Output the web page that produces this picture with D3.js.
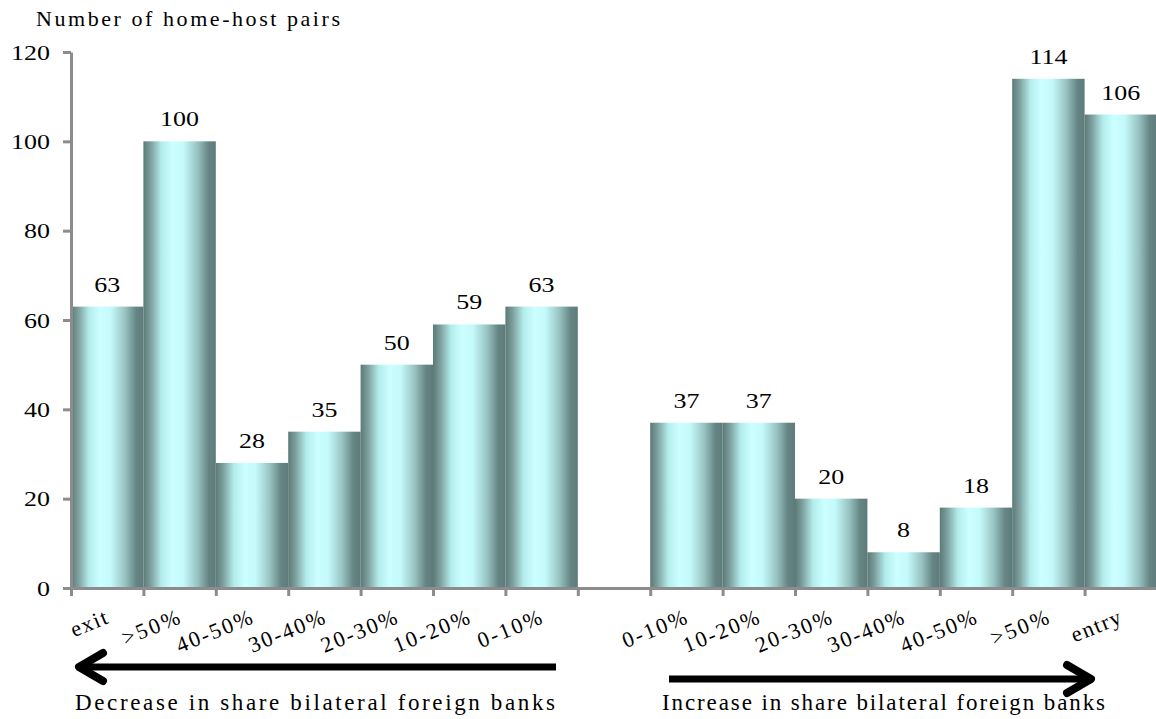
<!DOCTYPE html>
<html>
<head>
<meta charset="utf-8">
<script src="https://cdn.jsdelivr.net/npm/d3@7"></script>
<style>
  html, body { margin: 0; padding: 0; background: #ffffff; }
  svg { display: block; }
  text { font-family: "Liberation Serif", "Times New Roman", serif; fill: #000; }
</style>
</head>
<body>
<svg id="chart" width="1156" height="719"></svg>
<script>
// ---- Data ----
const leftLabels  = ["exit", ">50%", "40-50%", "30-40%", "20-30%", "10-20%", "0-10%"];
const leftValues  = [63, 100, 28, 35, 50, 59, 63];
const rightLabels = ["0-10%", "10-20%", "20-30%", "30-40%", "40-50%", ">50%", "entry"];
const rightValues = [37, 37, 20, 8, 18, 114, 106];
const yTicks = [0, 20, 40, 60, 80, 100, 120];
const yTitle = "Number of home-host pairs";
const leftCaption  = "Decrease in share bilateral foreign banks";
const rightCaption = "Increase in share bilateral foreign banks";

(function () {
// combined category list (one empty slot between the two groups)
const cats = [];
leftLabels.forEach((l, i) => cats.push({ label: l, value: leftValues[i] }));
cats.push({ label: "", value: null });
rightLabels.forEach((l, i) => cats.push({ label: l, value: rightValues[i] }));

const svg = d3.select("#chart");
const pl = 71, pr = 1157, pt = 52, pb = 588;

const x = d3.scaleBand().domain(d3.range(cats.length)).range([pl, pr]).padding(0);
const xEdge = d3.scaleLinear().domain([0, cats.length]).range([pl, pr]);
const y = d3.scaleLinear().domain([0, 120]).range([pb, pt]);

// helper: widen text like the original rendering
function stretch(sel, f, mode) {
  sel.each(function () {
    const n = this.getComputedTextLength();
    d3.select(this).attr("textLength", n * f).attr("lengthAdjust", mode || "spacing");
  });
}

// gradient
const defs = svg.append("defs");
const grad = defs.append("linearGradient").attr("id", "barGrad")
  .attr("x1", "0%").attr("x2", "100%").attr("y1", "0%").attr("y2", "0%");
[[0, "#5b7977"], [0.1, "#7c9f9d"], [0.25, "#b3ecec"], [0.4, "#ccffff"],
 [0.55, "#c5fafa"], [0.75, "#97c2c1"], [0.9, "#658584"], [1, "#5d7b7a"]]
  .forEach(([o, c]) => grad.append("stop").attr("offset", o).attr("stop-color", c));

// bars
const data = cats.map((d, i) => ({ ...d, i })).filter(d => d.value !== null);
svg.append("g").selectAll("rect").data(data).join("rect")
  .attr("x", d => x(d.i))
  .attr("width", x.bandwidth())
  .attr("y", d => y(d.value))
  .attr("height", d => y(0) - y(d.value))
  .attr("fill", "url(#barGrad)");

// value labels
svg.append("g").selectAll("text").data(data).join("text")
  .attr("x", d => x(d.i) + x.bandwidth() / 2)
  .attr("y", d => y(d.value) - 15)
  .attr("text-anchor", "middle")
  .style("font-size", "22px")
  .text(d => d.value)
  .call(stretch, 1.18, "spacingAndGlyphs");

// y axis
const yAxis = svg.append("g").attr("transform", `translate(${pl},0)`)
  .call(d3.axisLeft(y).tickValues(yTicks).tickSize(8).tickSizeOuter(0).tickPadding(13));
yAxis.selectAll("path, line").attr("stroke", "#8c8c8c").attr("stroke-width", 3);
yAxis.selectAll("text").style("font-size", "22px").attr("fill", "#000")
  .style("font-family", '"Liberation Serif", serif').call(stretch, 1.18, "spacingAndGlyphs");

// x axis (ticks at category boundaries)
const xAxis = svg.append("g").attr("transform", `translate(0,${pb})`)
  .call(d3.axisBottom(xEdge).tickValues(d3.range(0, cats.length)).tickSize(8).tickSizeOuter(0).tickFormat(""));
xAxis.selectAll("path, line").attr("stroke", "#8c8c8c").attr("stroke-width", 3);

// category labels (rotated)
svg.append("g").selectAll("text").data(cats.map((d, i) => ({ ...d, i })).filter(d => d.label))
  .join("text")
  .attr("transform", d => `translate(${x(d.i) + x.bandwidth() / 2 + 2},623) rotate(-22)`)
  .attr("text-anchor", "end")
  .style("font-size", "22px")
  .text(d => d.label)
  .call(stretch, 1.15);

// y title
svg.append("text").attr("x", 36).attr("y", 26)
  .style("font-size", "22px").text(yTitle)
  .attr("textLength", 304).attr("lengthAdjust", "spacing");

// captions
svg.append("text").attr("x", 75).attr("y", 710)
  .style("font-size", "23px").text(leftCaption)
  .attr("textLength", 480).attr("lengthAdjust", "spacing");
svg.append("text").attr("x", 662).attr("y", 710)
  .style("font-size", "23px").text(rightCaption)
  .attr("textLength", 443).attr("lengthAdjust", "spacing");

// arrows
const arr = svg.append("g").attr("stroke", "#000").attr("fill", "none");
arr.append("line").attr("x1", 556).attr("x2", 82).attr("y1", 667).attr("y2", 667).attr("stroke-width", 7);
arr.append("polyline").attr("points", "103,653 79,667 103,681")
  .attr("stroke-width", 8).attr("stroke-linecap", "round").attr("stroke-linejoin", "round");
arr.append("line").attr("x1", 669).attr("x2", 1088).attr("y1", 679).attr("y2", 679).attr("stroke-width", 7);
arr.append("polyline").attr("points", "1067,665 1091,679 1067,693")
  .attr("stroke-width", 8).attr("stroke-linecap", "round").attr("stroke-linejoin", "round");
})();
</script>
</body>
</html>
